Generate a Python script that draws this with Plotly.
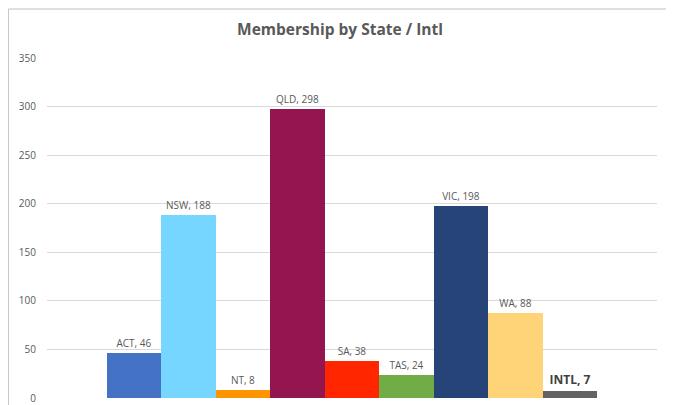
import plotly.graph_objects as go

categories = ["ACT", "NSW", "NT", "QLD", "SA", "TAS", "VIC", "WA", "INTL"]
members = [46, 188, 8, 298, 38, 24, 198, 88, 7]
colors = ["#4472C4", "#76D6FF", "#FF9300", "#941651", "#FF2600",
          "#70AD47", "#264478", "#FFD479", "#636363"]
y_ticks = [0, 50, 100, 150, 200, 250, 300, 350]

labels = []
sizes = []
fcolors = []
for c, v in zip(categories, members):
    if c == "INTL":
        labels.append(f"<b>{c}, {v}</b>")
        sizes.append(12)
        fcolors.append("#404040")
    else:
        labels.append(f"{c}, {v}")
        sizes.append(10)
        fcolors.append("#595959")

fig = go.Figure()
fig.add_trace(go.Bar(
    x=categories, y=members,
    marker=dict(color=colors, line=dict(width=0)),
    text=labels, textposition="outside",
    textfont=dict(size=sizes, color=fcolors, family="Open Sans, Arial, sans-serif"),
    cliponaxis=False, width=1,
))

PW = 610.0
PH = 340.0
fig.update_layout(
    width=666, height=405,
    margin=dict(l=39, r=17, t=50, b=15),
    paper_bgcolor="white", plot_bgcolor="white",
    bargap=0, showlegend=False,
    title=dict(text="<b>Membership by State / Intl</b>", x=(340 - 8 - 39) / PW, xanchor="center",
               xref="paper",
               y=1 - 22 / 405, yanchor="middle",
               font=dict(size=15.5, color="#595959", family="Open Sans, Arial, sans-serif")),
    xaxis=dict(range=[-1.6, 9.6], showticklabels=False, showgrid=False,
               zeroline=False, showline=False, ticks="", automargin=False),
    yaxis=dict(range=[0, 350], tickvals=y_ticks, showgrid=True, gridcolor="#D9D9D9",
               gridwidth=1, zeroline=False, showline=False, ticks="", automargin=False,
               tickfont=dict(size=10, color="#595959", family="Open Sans, Arial, sans-serif"),
               ticklabelstandoff=10),
    shapes=[
        # top border
        dict(type="line", xref="paper", yref="paper", x0=(0.5 - 39) / PW, x1=(664 - 39) / PW,
             y0=1 + 49 / PH, y1=1 + 49 / PH, line=dict(color="#BFBFBF", width=1)),
        # left border
        dict(type="line", xref="paper", yref="paper", x0=(0.5 - 39) / PW, x1=(0.5 - 39) / PW,
             y0=-0.2, y1=1 + 49 / PH, line=dict(color="#C8C8C8", width=1)),
        # right border
        dict(type="line", xref="paper", yref="paper", x0=(664.5 - 39) / PW, x1=(664.5 - 39) / PW,
             y0=-0.2, y1=1 + 49 / PH, line=dict(color="#C8C8C8", width=2)),
    ],
)

fig.write_html("out.html")
